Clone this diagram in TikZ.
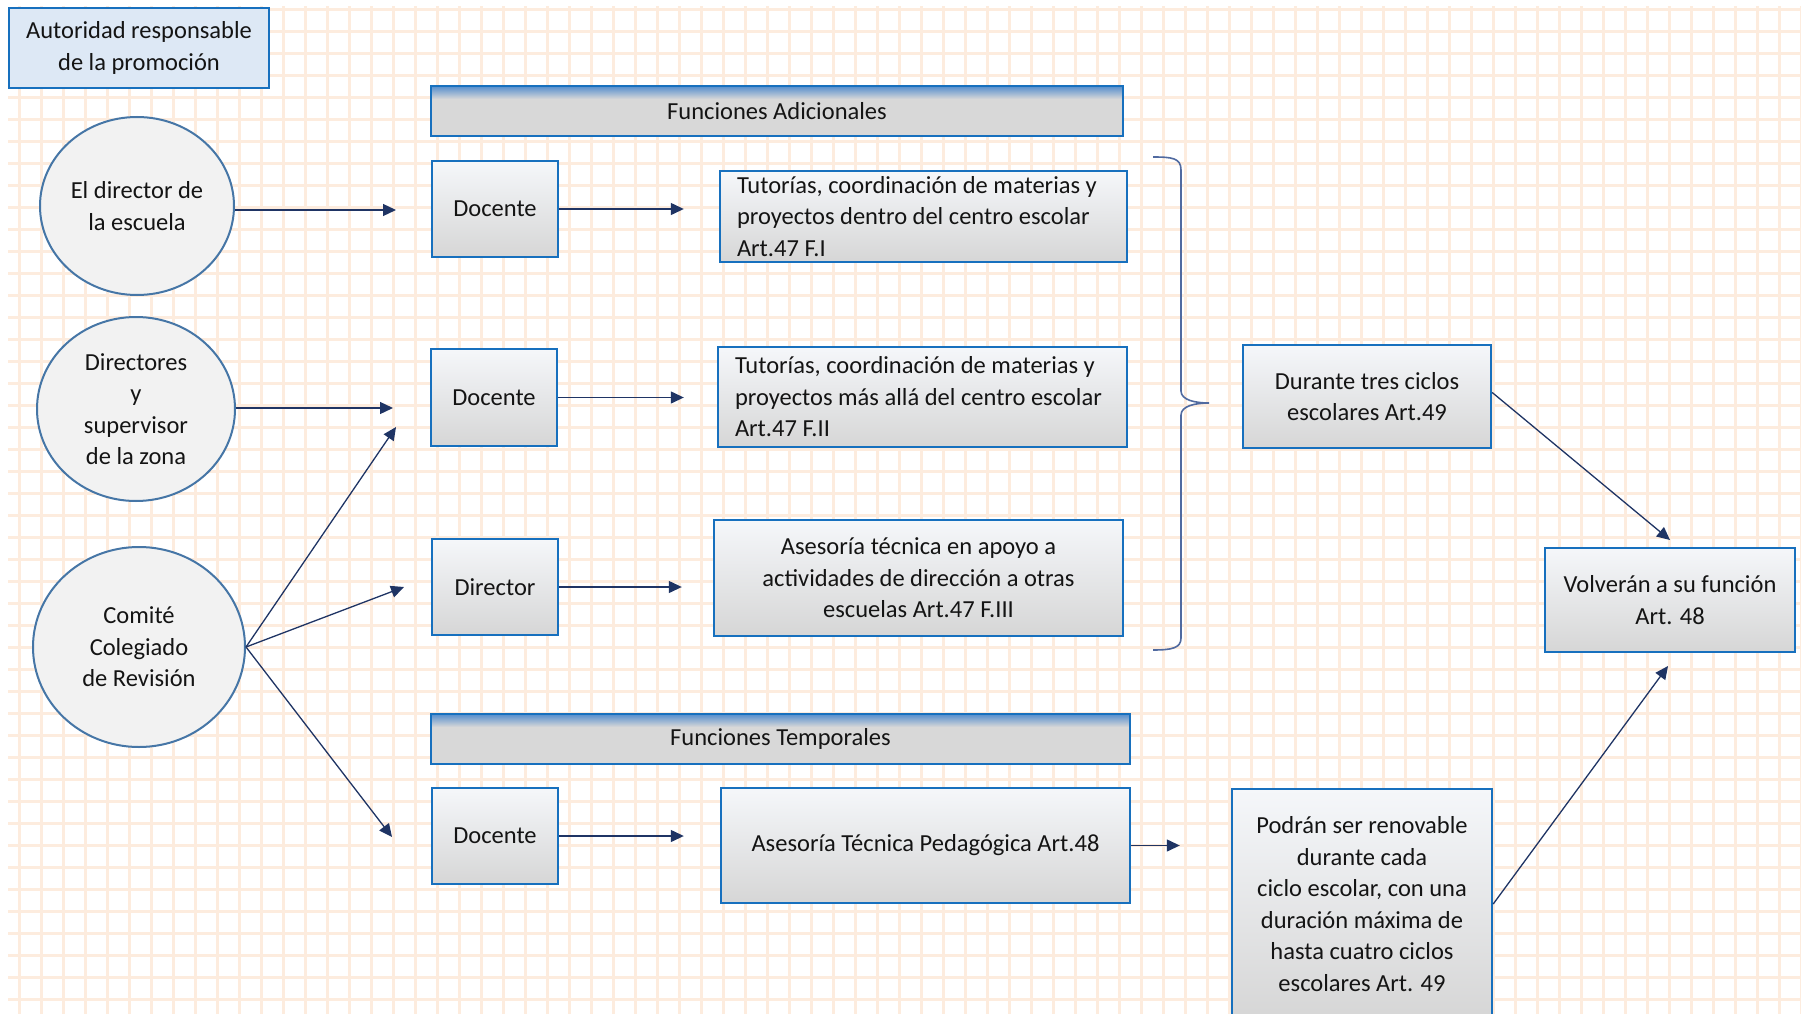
\documentclass[tikz,border=0pt]{standalone}
\usepackage{fontspec}
\setmainfont{Carlito}
\usetikzlibrary{shapes.geometric,arrows.meta}

\definecolor{gridc}{RGB}{253,236,222}
\definecolor{boxblue}{RGB}{23,112,190}
\definecolor{ringblue}{RGB}{70,118,166}
\definecolor{arrowc}{RGB}{31,52,100}
\definecolor{bracec}{RGB}{80,106,160}
\definecolor{authfill}{RGB}{221,232,245}
\definecolor{ovalfill}{RGB}{242,242,242}
\definecolor{boxtop}{RGB}{245,247,250}
\definecolor{boxbot}{RGB}{214,214,214}
\definecolor{hdrgray}{RGB}{216,216,216}
\definecolor{hdrblue}{RGB}{84,141,205}
\definecolor{textc}{RGB}{20,20,20}

% header bars: grey body with a blue band fading in at the top
\pgfdeclareverticalshading{hdrshade}{100bp}{color(0bp)=(hdrgray); color(25bp)=(hdrgray); color(62bp)=(hdrgray); color(75bp)=(hdrblue); color(100bp)=(hdrblue)}

\begin{document}
\begin{tikzpicture}[x=1pt,y=-1pt,
  every node/.style={font=\fontsize{24.5}{31.5}\selectfont, text=textc, inner sep=0pt},
  gridline/.style={draw=gridc, line width=2.7pt},
  box/.style={draw=boxblue, line width=2.4pt, top color=boxtop, bottom color=boxbot, align=center},
  lbox/.style={box, align=flush left, inner xsep=17pt},
  hdr/.style={draw=boxblue, line width=2.4pt, shade, shading=hdrshade, minimum height=50pt},
  oval/.style={ellipse, draw=ringblue, line width=2pt, fill=ovalfill, align=center},
  arr/.style={draw=arrowc, line width=1.3pt, -{Triangle[length=13pt,width=12pt]}},
  bracestyle/.style={draw=bracec, line width=1.6pt}
]
\useasboundingbox (0,0) rectangle (1801,1014);
\fill[white] (0,0) rectangle (1801,1014);

% squared paper background
\begin{scope}
  \clip (8,7) rectangle (1801,1014);
  \foreach \k in {0,...,81} \draw[gridline] ({19.5+22*\k},0) -- ({19.5+22*\k},1014);
  \foreach \k in {0,...,46} \draw[gridline] (0,{9.5+22*\k}) -- (1801,{9.5+22*\k});
\end{scope}

% legend box
\node[draw=boxblue, line width=2.4pt, fill=authfill, align=center,
      minimum width=260pt, minimum height=80pt] (auth) at (139,48)
  {Autoridad responsable\\de la promoción};

% authorities
\node[oval, minimum width=194pt, minimum height=178pt] (e1) at (137,206) {El director de\\la escuela};
\node[oval, minimum width=198pt, minimum height=184pt] (e2) at (136,409) {Directores\\y\\supervisor\\de la zona};
\node[oval, minimum width=212pt, minimum height=200pt] (e3) at (139,647) {Comité\\Colegiado\\de Revisión};

% section headers
\node[hdr, minimum width=692pt] (hdrA) at (777,111) {Funciones Adicionales};
\node[hdr, minimum width=699pt] (hdrT) at (780.5,739) {Funciones Temporales};

% roles
\node[box, minimum width=126pt, minimum height=96pt] (d1) at (495,209) {Docente};
\node[box, minimum width=126pt, minimum height=97pt] (d2) at (494,397.5) {Docente};
\node[box, minimum width=126pt, minimum height=96pt] (dir) at (495,587) {Director};
\node[box, minimum width=126pt, minimum height=96pt] (d4) at (495,836) {Docente};

% functions
\node[lbox, text width=373pt, minimum height=91pt] (t1) at (923.5,216.5)
  {Tutorías, coordinación de materias y\\proyectos dentro del centro escolar\\Art.47 F.I};
\node[lbox, text width=375pt, minimum height=100pt] (t2) at (922.5,397)
  {Tutorías, coordinación de materias y\\proyectos más allá del centro escolar\\Art.47 F.II};
\node[box, minimum width=409pt, minimum height=116pt] (a3) at (918.5,578)
  {Asesoría técnica en apoyo a\\actividades de dirección a otras\\escuelas Art.47 F.III};
\node[box, minimum width=409pt, minimum height=115pt] (atp) at (925.5,845.5)
  {Asesoría Técnica Pedagógica Art.48};

% durations and outcome
\node[box, minimum width=248pt, minimum height=103pt] (dur) at (1367,396.5)
  {Durante tres ciclos\\escolares Art.49};
\node[box, minimum width=260pt, minimum height=230pt] (pod) at (1362,904)
  {Podrán ser renovable\\durante cada\\ciclo escolar, con una\\duración máxima de\\hasta cuatro ciclos\\escolares Art. 49};
\node[box, minimum width=250pt, minimum height=104pt] (vol) at (1670,600)
  {Volverán a su función\\Art. 48};

% brace grouping the additional functions
\draw[bracestyle] (1153,157) .. controls (1172,157) and (1181,158) .. (1181,170)
  -- (1181,391) .. controls (1181,400) and (1195,403) .. (1209,403)
  .. controls (1195,403) and (1181,406) .. (1181,415)
  -- (1181,638) .. controls (1181,648) and (1172,650) .. (1153,650);

% arrow ends
\coordinate (a1) at (396,210);
\coordinate (a2) at (393,408);
\coordinate (a3c) at (396,427);
\coordinate (a4c) at (404,587);
\coordinate (a5c) at (392,837);
\coordinate (v1) at (1670,540);
\coordinate (v2) at (1668,666);

% connectors
\draw[arr] (a1 -| e1.east) -- (a1);
\draw[arr] (a2 -| e2.east) -- (a2);
\draw[arr] (e3.east) -- (a3c);
\draw[arr] (e3.east) -- (a4c);
\draw[arr] (e3.east) -- (a5c);

\draw[arr, shorten >=35pt] (d1.east) -- (d1.east -| t1.west);
\draw[arr, shorten >=33pt] (d2.east) -- (d2.east -| t2.west);
\draw[arr, shorten >=31pt] (dir.east) -- (dir.east -| a3.west);
\draw[arr, shorten >=36pt] (d4.east) -- (d4.east -| atp.west);
\draw[arr, shorten >=51pt] (atp.east) -- (atp.east -| pod.west);

\draw[arr] ([yshift=4pt]dur.east) -- (v1);
\draw[arr] (pod.east) -- (v2);
\end{tikzpicture}
\end{document}
